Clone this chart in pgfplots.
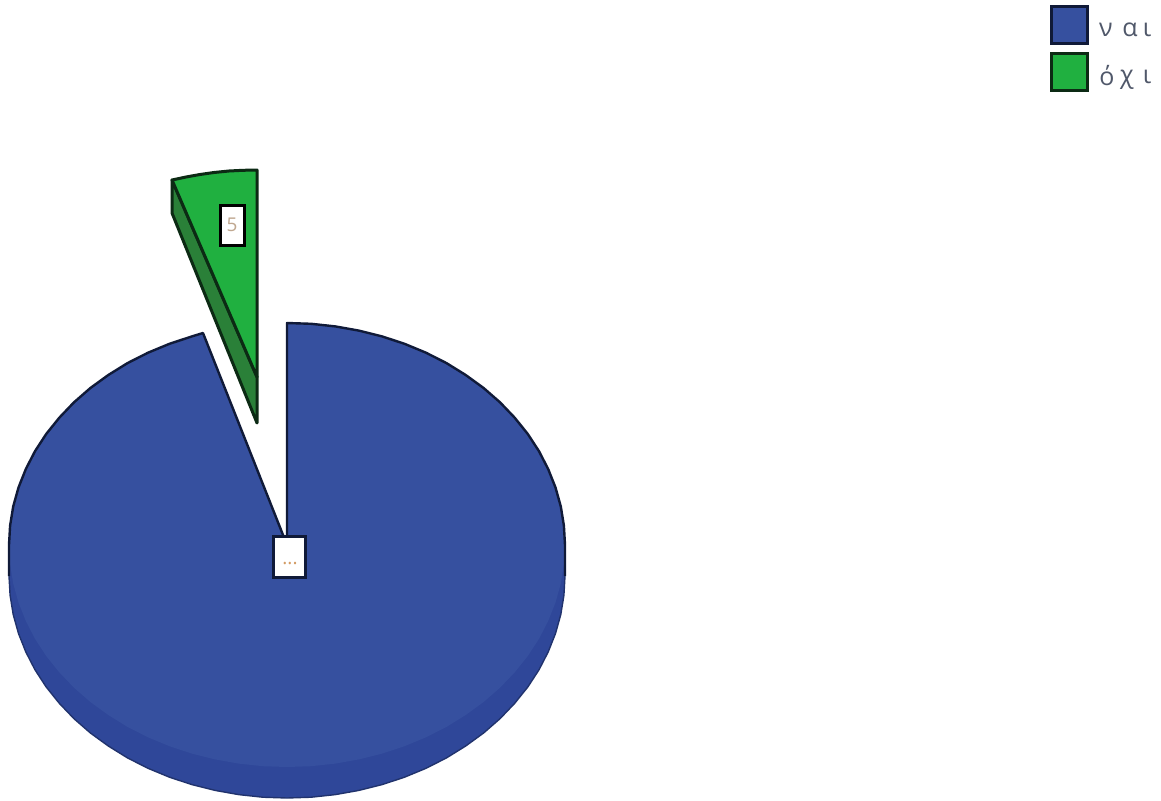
\documentclass[border=0pt]{standalone}
\usepackage{pgfplots}
\pgfplotsset{compat=1.18}
\usepackage{fontspec}
\setmainfont{Open Sans}
\definecolor{naiblue}{HTML}{36509F}
\definecolor{naiwall}{HTML}{2F4799}
\definecolor{ochigreen}{HTML}{20B040}
\definecolor{ochiwall}{HTML}{2A8038}
\definecolor{edge}{HTML}{101A38}
\definecolor{gedge}{HTML}{0C2A14}
\definecolor{valtext}{HTML}{C0A890}
\definecolor{legtext}{HTML}{50586A}
\begin{document}
\begin{tikzpicture}
\begin{axis}[
  hide axis, scale only axis,
  width=1161pt, height=800pt,
  xmin=0, xmax=1161, ymin=0, ymax=800, y dir=reverse,
  clip=false,
]
\path (axis cs:0,0) rectangle (axis cs:1161,800);
% wall of the large slice
\addplot[fill=naiwall, draw=edge!45!naiwall, line width=1.4pt] coordinates {
 (565,545)(565,576)(563.9,595.4)(560.8,614.5)(555.5,633.5)(548.2,651.9)(539,669.8)(527.8,687)(514.7,703.3)(500,718.7)
 (483.6,733)(465.7,746)(446.5,757.9)(426,768.3)(404.5,777.2)(382.1,784.6)(358.9,790.4)(335.3,794.6)(311.2,797.2)(287,798)
 (262.8,797.2)(238.7,794.6)(215.1,790.4)(191.9,784.6)(169.5,777.2)(148,768.3)(127.5,757.9)(108.3,746)(90.4,733)(74,718.7)
 (59.3,703.3)(46.2,687)(35,669.8)(25.8,651.9)(18.5,633.5)(13.2,614.5)(10.1,595.4)(9,576)(9,545)
} -- cycle;
% top face of the large slice
\addplot[fill=naiblue, draw=none] coordinates {
 (287,545)(287,323)(311.2,323.8)(335.3,326.4)(358.9,330.6)(382.1,336.4)(404.5,343.8)(426,352.7)(446.5,363.1)(465.7,375)
 (483.6,388)(500,402.3)(514.7,417.7)(527.8,434)(539,451.2)(548.2,469.1)(555.5,487.5)(560.8,506.5)(563.9,525.6)(565,545)
 (563.9,564.4)(560.8,583.5)(555.5,602.5)(548.2,620.9)(539,638.8)(527.8,656)(514.7,672.3)(500,687.7)(483.6,702)(465.7,715)
 (446.5,726.9)(426,737.3)(404.5,746.2)(382.1,753.6)(358.9,759.4)(335.3,763.6)(311.2,766.2)(287,767)
 (262.8,766.2)(238.7,763.6)(215.1,759.4)(191.9,753.6)(169.5,746.2)(148,737.3)(127.5,726.9)(108.3,715)(90.4,702)(74,687.7)
 (59.3,672.3)(46.2,656)(35,638.8)(25.8,620.9)(18.5,602.5)(13.2,583.5)(10.1,564.4)(9,545)
 (10.1,525.6)(13.2,506.5)(18.5,487.5)(25.8,469.1)(35,451.2)(46.2,434)(59.3,417.7)(74,402.3)(90.4,388)(108.3,375)
 (127.5,363.1)(148,352.7)(169.5,343.8)(191.9,336.4)(203,333)
} -- cycle;
% dark outline along the upper rim and the two cut edges
\addplot[draw=edge, line width=2.4pt, line join=round] coordinates {
 (9,576)(9,545)(10.1,525.6)(13.2,506.5)(18.5,487.5)(25.8,469.1)(35,451.2)(46.2,434)(59.3,417.7)(74,402.3)(90.4,388)(108.3,375)
 (127.5,363.1)(148,352.7)(169.5,343.8)(191.9,336.4)(203,333)(287,545)(287,323)
 (311.2,323.8)(335.3,326.4)(358.9,330.6)(382.1,336.4)(404.5,343.8)(426,352.7)(446.5,363.1)(465.7,375)
 (483.6,388)(500,402.3)(514.7,417.7)(527.8,434)(539,451.2)(548.2,469.1)(555.5,487.5)(560.8,506.5)(563.9,525.6)(565,545)(565,576)
};
% the small slice, pulled out: wall, then top face
\addplot[fill=ochiwall, draw=gedge, line width=3pt, line join=round] coordinates {
 (172,180)(172,213)(257,423)(257,377)
} -- cycle;
\addplot[fill=ochigreen, draw=gedge, line width=3pt, line join=round] coordinates {
 (257,377)(172,180)(186,177)(200,174.5)(214,172.5)(229,171)(243,170.3)(257,170)
} -- cycle;
% value boxes
\addplot[fill=white, draw=black, line width=3pt] coordinates {(220,205)(244,205)(244,245)(220,245)} -- cycle;
\node[text=valtext, font=\fontsize{19}{19}\selectfont] at (axis cs:232,225) {5};
\addplot[fill=white, draw=edge, line width=3pt] coordinates {(273,536)(305,536)(305,577)(273,577)} -- cycle;
\node[text=valtext!70!orange, font=\fontsize{19}{19}\selectfont] at (axis cs:290,564) {...};
% legend
\addplot[fill=naiblue, draw=edge, line width=3pt] coordinates {(1051,7)(1087,7)(1087,44)(1051,44)} -- cycle;
\addplot[fill=ochigreen, draw=gedge, line width=3pt] coordinates {(1051,54)(1087,54)(1087,90)(1051,90)} -- cycle;
\node[text=legtext, font=\fontsize{25}{25}\selectfont] at (axis cs:1106,30) {ν};
\node[text=legtext, font=\fontsize{25}{25}\selectfont] at (axis cs:1130,30) {α};
\node[text=legtext, font=\fontsize{25}{25}\selectfont] at (axis cs:1147,30) {ι};
\node[text=legtext, font=\fontsize{25}{25}\selectfont] at (axis cs:1107,76) {ό};
\node[text=legtext, font=\fontsize{25}{25}\selectfont] at (axis cs:1127,80) {χ};
\node[text=legtext, font=\fontsize{25}{25}\selectfont] at (axis cs:1147,77) {ι};
\end{axis}
\end{tikzpicture}
\end{document}
